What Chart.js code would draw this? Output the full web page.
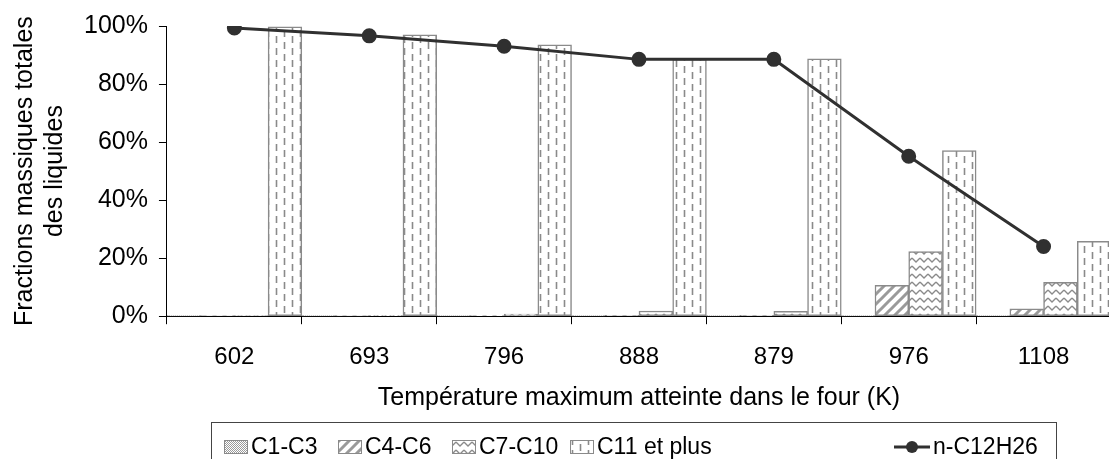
<!DOCTYPE html>
<html>
<head>
<meta charset="utf-8">
<script src="https://cdn.jsdelivr.net/npm/chart.js@4.4.1/dist/chart.umd.min.js"></script>
<style>
  html, body { margin: 0; padding: 0; overflow: hidden; background: #fff; }
</style>
</head>
<body>
<canvas id="chart" width="1120" height="459"></canvas>
<script>
"use strict";

// temperatures (K) used as categories
const temperatures = ['602', '693', '796', '888', '879', '976', '1108'];
// mass fractions, %
const c1c3 = [0.02, 0.02, 0.02, 0.02, 0.02, 0.02, 0.02];
const c4c6 = [0.1, 0.05, 0.2, 0.3, 0.3, 10.6, 2.5];
const c7c10 = [0.1, 0.2, 0.7, 1.8, 1.7, 22.3, 11.7];
const c11plus = [99.7, 97.0, 93.5, 88.5, 88.7, 57.1, 25.8];
const dodecane = [99.3, 96.6, 93.0, 88.5, 88.5, 55.1, 24.0];
const yTicks = [0, 20, 40, 60, 80, 100];

const FONT = "'Liberation Sans', Arial, sans-serif";
const BAR_BORDER = '#8a8a8a';

function makePattern(kind) {
    const c = document.createElement('canvas');
    const g = c.getContext('2d');
    if (kind === 'dots') {
        c.width = 4; c.height = 4;
        g.fillStyle = '#fff'; g.fillRect(0, 0, 4, 4);
        g.fillStyle = '#9a9a9a';
        for (let y = 0; y < 4; y++)
            for (let x = 0; x < 4; x++)
                if ((x + y) % 2 === 0) g.fillRect(x, y, 1, 1);
    } else if (kind === 'diag') {
        c.width = 10; c.height = 10;
        g.fillStyle = '#fff'; g.fillRect(0, 0, 10, 10);
        g.strokeStyle = '#9a9a9a'; g.lineWidth = 3;
        g.beginPath();
        g.moveTo(-2, 12); g.lineTo(12, -2);
        g.moveTo(-7, 7); g.lineTo(7, -7);
        g.moveTo(3, 17); g.lineTo(17, 3);
        g.stroke();
    } else if (kind === 'wave') {
        c.width = 8; c.height = 8;
        g.fillStyle = '#fff'; g.fillRect(0, 0, 8, 8);
        g.strokeStyle = '#8a8a8a'; g.lineWidth = 1.3;
        g.beginPath();
        g.moveTo(0, 2); g.lineTo(4, 6); g.lineTo(8, 2);
        g.stroke();
    } else {
        c.width = 16; c.height = 12;
        g.fillStyle = '#fff'; g.fillRect(0, 0, 16, 12);
        g.strokeStyle = '#8a8a8a'; g.lineWidth = 1.6;
        g.beginPath();
        g.moveTo(4.5, 0); g.lineTo(4.5, 7);
        g.moveTo(12.5, 6); g.lineTo(12.5, 12);
        g.moveTo(12.5, 0); g.lineTo(12.5, 1);
        g.stroke();
    }
    return g.createPattern(c, 'repeat');
}

const barSet = (label, data, kind) => ({
    type: 'bar',
    label: label,
    data: data,
    backgroundColor: makePattern(kind),
    borderColor: BAR_BORDER,
    borderWidth: 1.5,
    borderSkipped: false,
    order: 1
});

// legend drawn in a bordered box under the axis title
const boxLegend = {
    id: 'boxLegend',
    afterDraw(chart) {
        const ctx = chart.ctx;
        const spots = [224, 338, 452, 570, 894];
        const top = 422, mid = 447;
        ctx.save();
        ctx.strokeStyle = '#444';
        ctx.lineWidth = 1;
        ctx.strokeRect(211.5, top + 0.5, 845, 60);
        ctx.font = '23px ' + FONT;
        ctx.fillStyle = '#000';
        ctx.textBaseline = 'middle';
        chart.data.datasets.forEach((ds, i) => {
            const x = spots[i];
            let tx;
            if (ds.type === 'line') {
                ctx.strokeStyle = ds.borderColor;
                ctx.lineWidth = ds.borderWidth;
                ctx.beginPath();
                ctx.moveTo(x, mid); ctx.lineTo(x + 36, mid);
                ctx.stroke();
                ctx.fillStyle = ds.pointBackgroundColor;
                ctx.beginPath();
                ctx.arc(x + 18, mid, 6, 0, Math.PI * 2);
                ctx.fill();
                tx = x + 39;
            } else {
                ctx.fillStyle = ds.backgroundColor;
                ctx.fillRect(x, mid - 7, 24, 14);
                ctx.strokeStyle = BAR_BORDER;
                ctx.lineWidth = 1;
                ctx.strokeRect(x + 0.5, mid - 6.5, 23, 13);
                tx = x + 27;
            }
            ctx.fillStyle = '#000';
            ctx.fillText(ds.label, tx, mid + 1);
        });
        ctx.restore();
    }
};

new Chart(document.getElementById('chart'), {
    data: {
        labels: temperatures,
        datasets: [
            barSet('C1-C3', c1c3, 'dots'),
            barSet('C4-C6', c4c6, 'diag'),
            barSet('C7-C10', c7c10, 'wave'),
            barSet('C11 et plus', c11plus, 'dash'),
            {
                type: 'line',
                label: 'n-C12H26',
                data: dodecane,
                borderColor: '#303030',
                borderWidth: 3,
                pointRadius: 6,
                pointBackgroundColor: '#303030',
                pointBorderColor: '#303030',
                tension: 0,
                order: 0
            }
        ]
    },
    options: {
        responsive: false,
        animation: false,
        categoryPercentage: 1,
        barPercentage: 1,
        layout: { padding: { top: 21, right: 4, bottom: 38, left: 0 } },
        plugins: {
            legend: { display: false },
            tooltip: { enabled: false }
        },
        scales: {
            x: {
                offset: true,
                grid: { offset: true, drawOnChartArea: false, color: '#000', tickLength: 8 },
                border: { color: '#000', width: 1 },
                ticks: { color: '#000', font: { family: FONT, size: 24 }, padding: 19, maxRotation: 0 },
                title: {
                    display: true,
                    text: 'Température maximum atteinte dans le four (K)',
                    color: '#000',
                    font: { family: FONT, size: 25 },
                    padding: { top: -8, bottom: 8 }
                }
            },
            y: {
                min: 0,
                max: 100,
                afterBuildTicks: axis => { axis.ticks = yTicks.map(v => ({ value: v })); },
                grid: { drawOnChartArea: false, color: '#000', tickLength: 8 },
                border: { color: '#000', width: 1 },
                ticks: {
                    color: '#000',
                    font: { family: FONT, size: 25 },
                    padding: 11,
                    callback: v => v + '%'
                },
                title: {
                    display: true,
                    text: ['Fractions massiques totales', 'des liquides'],
                    color: '#000',
                    font: { family: FONT, size: 25 },
                    padding: { top: 10, bottom: 3 }
                }
            }
        }
    },
    plugins: [boxLegend]
});
</script>
</body>
</html>
